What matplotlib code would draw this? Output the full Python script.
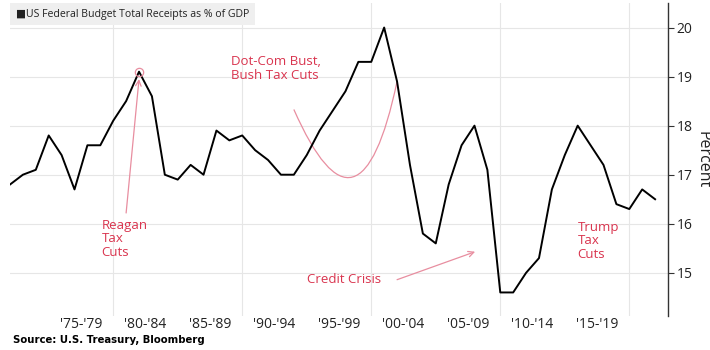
import numpy as np
import matplotlib
matplotlib.use("Agg")
import matplotlib.pyplot as plt
from matplotlib.path import Path
from matplotlib.patches import PathPatch

# ---- data (fiscal years, receipts as % of GDP) ----
fiscal_years = list(range(1971, 2022))
receipts_pct = [16.8, 17.0, 17.1, 17.8, 17.4, 16.7, 17.6, 17.6, 18.1, 18.5,
                19.1, 18.6, 17.0, 16.9, 17.2, 17.0, 17.9, 17.7, 17.8, 17.5,
                17.3, 17.0, 17.0, 17.4, 17.9, 18.3, 18.7, 19.3, 19.3, 20.0,
                18.9, 17.2, 15.8, 15.6, 16.8, 17.6, 18.0, 17.1, 14.6, 14.6,
                15.0, 15.3, 16.7, 17.4, 18.0, 17.6, 17.2, 16.4, 16.3, 16.7,
                16.5]
period_labels = ["'75-'79", "'80-'84", "'85-'89", "'90-'94", "'95-'99",
                 "'00-'04", "'05-'09", "'10-'14", "'15-'19"]
period_centers = [1977.5, 1982.5, 1987.5, 1992.5, 1997.5,
                  2002.5, 2007.5, 2012.5, 2017.5]
grid_years = [1980, 1990, 2000, 2010, 2020]
y_ticks = [15, 16, 17, 18, 19, 20]

# points are plotted at the end of each fiscal year
x_pos = [y + 1 for y in fiscal_years]

RED = "#d9344e"
PINK = "#e88ea0"
GRID = "#e6e6e6"
SANS = ['Open Sans', 'DejaVu Sans']

plt.rcParams['font.family'] = SANS

fig = plt.figure(figsize=(7.1, 3.5), dpi=100)
ax = fig.add_axes([10/710, 34/350, 658/710, 313/350])

ax.plot(x_pos, receipts_pct, color="black", lw=1.4, zorder=3)

ax.set_xlim(1972, 2023)
ax.set_ylim(14.12, 20.5)

ax.set_xticks(grid_years)
ax.set_xticklabels([])
ax.set_xticks(period_centers, minor=True)
ax.set_xticklabels(period_labels, minor=True, fontsize=10, color="#222222")
ax.tick_params(axis='x', which='both', length=0, pad=1)

ax.yaxis.tick_right()
ax.yaxis.set_label_position("right")
ax.set_yticks(y_ticks)
ax.tick_params(axis='y', length=4, width=0.8, color="#333333",
               labelsize=10, labelcolor="#222222", pad=2)
ax.set_ylabel("Percent", rotation=270, fontsize=11.5, labelpad=13, color="#222222")

ax.grid(True, which='major', color=GRID, lw=0.8, zorder=0)
for s in ["top", "left", "bottom"]:
    ax.spines[s].set_visible(False)
ax.spines["right"].set_color("#333333")
ax.spines["right"].set_linewidth(1.0)

# ---- annotations ----
ANN_FS = 9.5
ANN_LS = 1.05
# Reagan
peak_i = fiscal_years.index(1981)
ax.plot(x_pos[peak_i], receipts_pct[peak_i], marker='o', ms=6, mfc='none',
        mec=PINK, mew=0.9, zorder=4)
ax.annotate("", xy=(x_pos[peak_i], receipts_pct[peak_i] - 0.15),
            xytext=(1981.0, 16.22),
            arrowprops=dict(arrowstyle="->", color=PINK, lw=0.9,
                            shrinkA=0, shrinkB=0))
ax.text(1979.1, 16.1, "Reagan\nTax\nCuts", color=RED, fontsize=ANN_FS,
        va='top', ha='left', linespacing=ANN_LS)

# Dot-com / Bush
ax.text(1989.1, 19.43, "Dot-Com Bust,\nBush Tax Cuts", color=RED, fontsize=ANN_FS,
        va='top', ha='left', linespacing=ANN_LS + 0.05)
bush_i = fiscal_years.index(2001)
verts = [(1994.0, 18.33), (1999.1, 15.29), (x_pos[bush_i], receipts_pct[bush_i])]
curve = Path(verts, [Path.MOVETO, Path.CURVE3, Path.CURVE3])
ax.add_patch(PathPatch(curve, fc='none', ec=PINK, lw=0.9, zorder=2))

# Credit crisis
ax.text(1995.0, 14.87, "Credit Crisis", color=RED, fontsize=ANN_FS,
        va='center', ha='left')
ax.annotate("", xy=(2008.05, 15.43), xytext=(2002.0, 14.86),
            arrowprops=dict(arrowstyle="->", color=PINK, lw=0.9,
                            shrinkA=0, shrinkB=0))

# Trump
ax.text(2016.0, 16.06, "Trump\nTax\nCuts", color=RED, fontsize=ANN_FS,
        va='top', ha='left', linespacing=ANN_LS)

# ---- title & source ----
fig.text(16/710, 1 - 14/350, "\u25a0US Federal Budget Total Receipts as % of GDP",
         fontsize=7.6, va='center', ha='left', color="#222222",
         bbox=dict(boxstyle="square,pad=0.55", fc="#efefef", ec="none"))
fig.text(13/710, 10/350, "Source: U.S. Treasury, Bloomberg", fontsize=7.3,
         fontweight='bold', va='center', ha='left', color="black",
         family='DejaVu Sans')

fig.savefig("out.png", dpi=100)
